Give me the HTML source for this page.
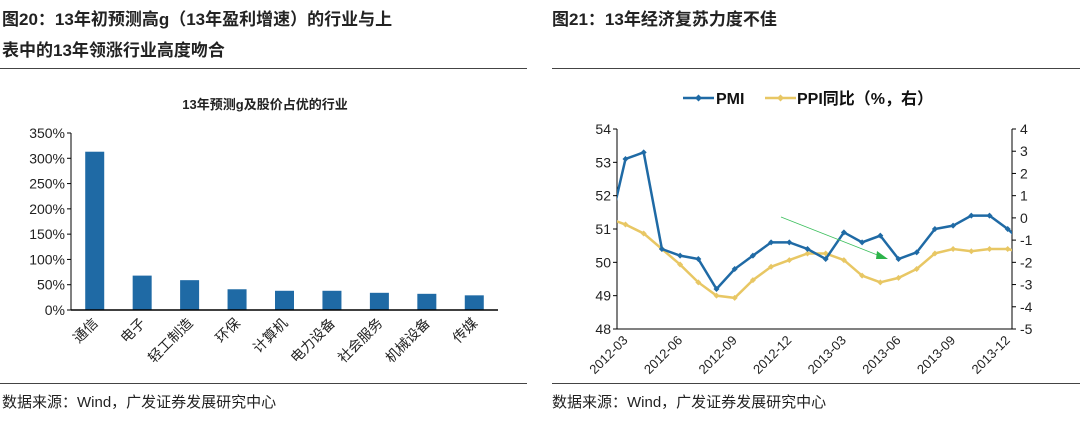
<!DOCTYPE html>
<html><head><meta charset="utf-8"><style>
body{margin:0;background:#fff;width:1080px;height:416px;overflow:hidden;font-family:"Liberation Sans","Noto Sans CJK SC",sans-serif;}
svg text{font-family:"Liberation Sans","Noto Sans CJK SC",sans-serif;}
</style></head><body>
<svg width="1080" height="416">
<text x="2" y="25" font-size="17" font-weight="bold" fill="#222">图20：13年初预测高g（13年盈利增速）的行业与上</text>
<text x="2" y="56" font-size="17" font-weight="bold" fill="#222">表中的13年领涨行业高度吻合</text>
<line x1="0" y1="68.5" x2="527" y2="68.5" stroke="#444"/>
<text x="552" y="25" font-size="17" font-weight="bold" fill="#222">图21：13年经济复苏力度不佳</text>
<line x1="552" y1="68.5" x2="1080" y2="68.5" stroke="#444"/>
<line x1="0" y1="383.5" x2="527" y2="383.5" stroke="#444"/>
<line x1="552" y1="383.5" x2="1080" y2="383.5" stroke="#444"/>
<text x="2" y="407" font-size="15" fill="#222">数据来源：Wind，广发证券发展研究中心</text>
<text x="552" y="407" font-size="15" fill="#222">数据来源：Wind，广发证券发展研究中心</text>
<text x="265" y="109" font-size="13" font-weight="bold" text-anchor="middle" fill="#222">13年预测g及股价占优的行业</text>
<g id="bars"></g>
<g id="lines"></g>
</svg>
<script>
const cats=['通信','电子','轻工制造','环保','计算机','电力设备','社会服务','机械设备','传媒'];
const vals=[313,68,59,41,38,38,34,32,29];
const yTicks=[0,50,100,150,200,250,300,350];
const months=['2012-02','2012-03','2012-04','2012-05','2012-06','2012-07','2012-08','2012-09','2012-10','2012-11','2012-12','2013-01','2013-02','2013-03','2013-04','2013-05','2013-06','2013-07','2013-08','2013-09','2013-10','2013-11','2013-12','2014-01'];
const pmi=[50.75,53.1,53.3,50.4,50.2,50.1,49.2,49.8,50.2,50.6,50.6,50.4,50.1,50.9,50.6,50.8,50.1,50.3,51.0,51.1,51.4,51.4,51.0,50.5];
const ppi=[0.0,-0.3,-0.7,-1.4,-2.1,-2.9,-3.5,-3.6,-2.8,-2.2,-1.9,-1.6,-1.6,-1.9,-2.6,-2.9,-2.7,-2.3,-1.6,-1.4,-1.5,-1.4,-1.4,-1.6];
const leftTicks=[48,49,50,51,52,53,54];
const rightTicks=[-5,-4,-3,-2,-1,0,1,2,3,4];
const xLabels=['2012-03','2012-06','2012-09','2012-12','2013-03','2013-06','2013-09','2013-12'];
const NS='http://www.w3.org/2000/svg';
function mk(p,t,a){const e=document.createElementNS(NS,t);for(const k in a)e.setAttribute(k,a[k]);p.appendChild(e);return e;}
// bar chart
const B=document.getElementById('bars');
const bx0=71,bx1=498,by0=310,by1=133;
const yB=v=>by0-(v/350)*(by0-by1);
const bw=(bx1-bx0)/cats.length;
yTicks.forEach(t=>{
 const tx=mk(B,'text',{x:bx0-6,y:yB(t)+5,'font-size':14,'text-anchor':'end',fill:'#222'});tx.textContent=t+'%';
 
 
 const tl=mk(B,'line',{x1:bx0-4,x2:bx0,y1:yB(t),y2:yB(t),stroke:'#000'});
 
 
});
cats.forEach((c,i)=>{
 const cx=bx0+bw*(i+0.5);
 const r=mk(B,'rect',{x:cx-9.5,y:yB(vals[i]),width:19,height:by0-yB(vals[i]),fill:'#1f6aa5'});
 
 
 const t=mk(B,'text',{x:cx+4,y:by0+14,'font-size':14,'text-anchor':'end',fill:'#222',transform:`rotate(-45 ${cx+4} ${by0+14})`});t.textContent=c;
 
 
});
const ya=mk(B,'line',{x1:bx0,x2:bx0,y1:by1,y2:by0,stroke:'#000'});


const xa=mk(B,'line',{x1:bx0,x2:bx1,y1:by0,y2:by0,stroke:'#000','stroke-width':1.5});


// line chart
const L=document.getElementById('lines');
const lx0=617,lx1=1012,ly0=329,ly1=129;
const step=18.2,first=625.5-step;
const xL=i=>first+i*step;
const yP=v=>ly0-(v-48)/6*(ly0-ly1);
const yR=v=>ly0-(v+5)/9*(ly0-ly1);
const defs=mk(L,'defs',{});const cp=mk(defs,'clipPath',{id:'clip'});mk(cp,'rect',{x:lx0,y:ly1-10,width:lx1-lx0,height:ly0-ly1+20});
leftTicks.forEach(t=>{
 const tx=mk(L,'text',{x:lx0-6,y:yP(t)+5,'font-size':14,'text-anchor':'end',fill:'#222'});tx.textContent=t;
 
 
 mk(L,'line',{x1:lx0-4,x2:lx0,y1:yP(t),y2:yP(t),stroke:'#000'});
});
rightTicks.forEach(t=>{
 const tx=mk(L,'text',{x:lx1+8,y:yR(t)+5,'font-size':14,fill:'#222'});tx.textContent=t;
 
 
 mk(L,'line',{x1:lx1,x2:lx1+4,y1:yR(t),y2:yR(t),stroke:'#000'});
});
const al=mk(L,'line',{x1:lx0,x2:lx0,y1:ly1,y2:ly0,stroke:'#000'});


const ar=mk(L,'line',{x1:lx1,x2:lx1,y1:ly1,y2:ly0,stroke:'#000'});


const ab=mk(L,'line',{x1:lx0,x2:lx1,y1:ly0,y2:ly0,stroke:'#000'});


xLabels.forEach(lab=>{
 const i=months.indexOf(lab);const x=xL(i);
 const t=mk(L,'text',{x:x+3,y:ly0+12,'font-size':13,'text-anchor':'end',fill:'#222',transform:`rotate(-45 ${x+3} ${ly0+12})`});t.textContent=lab;
 
 
});
const g=mk(L,'g',{'clip-path':'url(#clip)'});
function series(arr,yf,col,name){
 const p=mk(g,'polyline',{points:arr.map((v,i)=>xL(i)+','+yf(v)).join(' '),fill:'none',stroke:col,'stroke-width':2.5});
 
 
 arr.forEach((v,i)=>{const x=xL(i),y=yf(v);
  const d=mk(g,'path',{d:`M${x-3} ${y}L${x} ${y-3}L${x+3} ${y}L${x} ${y+3}Z`,fill:col});
  
  });
}
series(ppi,yR,'#e8c764','ppi');
series(pmi,yP,'#1f6aa5','pmi');
// arrow
const arw=mk(L,'line',{x1:781,y1:217,x2:880,y2:256,stroke:'#3bbf5c','stroke-width':0.8});


mk(L,'path',{d:'M888 259 L877 251 L876 259 Z',fill:'#2db34a'});
// legend
const lg=mk(L,'g',{});


mk(lg,'line',{x1:683,x2:714,y1:98,y2:98,stroke:'#1f6aa5','stroke-width':2.5});
mk(lg,'path',{d:'M695 98L698.5 94.5L702 98L698.5 101.5Z',fill:'#1f6aa5'});
const t1=mk(lg,'text',{x:716,y:104,'font-size':16,'font-weight':'bold',fill:'#111'});t1.textContent='PMI';


mk(lg,'line',{x1:765,x2:796,y1:98,y2:98,stroke:'#e8c764','stroke-width':2.5});
mk(lg,'path',{d:'M777 98L780.5 94.5L784 98L780.5 101.5Z',fill:'#e8c764'});
const t2=mk(lg,'text',{x:797,y:104,'font-size':16,'font-weight':'bold',fill:'#111'});t2.textContent='PPI同比（%，右）';


</script>
</body></html>
